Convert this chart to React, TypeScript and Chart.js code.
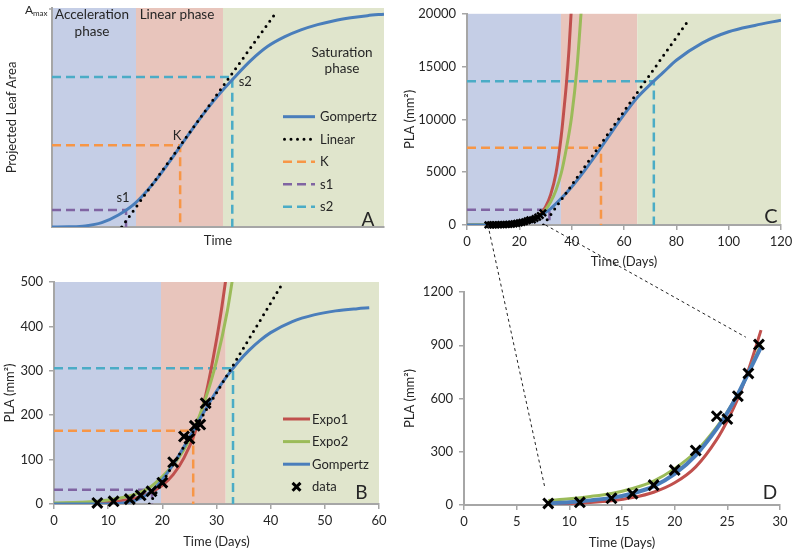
import React, { useEffect, useRef } from "react";
import { Chart, registerables } from "chart.js";
Chart.register(...registerables);

// ---------------- DATA ----------------
// Panel A – schematic (time in arbitrary units, area as a fraction of Amax)
const aTime = [0, 5, 10, 15, 20, 25, 30, 35, 40, 45, 50, 55, 60, 65, 70, 75, 80, 85, 90, 95, 100];
const aGompertz = [0, 0.001, 0.005, 0.02, 0.055, 0.108, 0.19, 0.29, 0.398, 0.504, 0.6, 0.684, 0.762, 0.825, 0.868, 0.9, 0.924, 0.942, 0.955, 0.965, 0.972];
const aLinearTime = [21, 67.5];
const aLinearArea = [0, 0.98];
const aPhaseBounds = [0, 25.3, 51.5, 100];
const aS1 = [22.3, 0.078];
const aK = [38.6, 0.373];
const aS2 = [54.3, 0.685];

// Panel B – PLA (mm²) vs time (days)
const bPhaseBounds = [0, 19.75, 31.7, 60];
const bGompDays = [0, 5, 10, 12, 14, 16, 18, 20, 22, 24, 26, 28, 30, 32, 34, 36, 38, 40, 44, 48, 52, 56, 58.2];
const bGompertz = [0, 0, 0.2, 1.1, 4.5, 12.9, 29, 55, 89, 129, 171, 214, 254, 289, 320, 346, 368, 386, 411, 426, 435, 440, 442];
const bExpo1Days = [0, 5, 8, 10, 12, 15, 18, 20, 22, 24, 26, 28, 30, 31, 32];
const bExpo1 = [1, 2, 3, 5, 7, 13, 27, 42, 66, 104, 160, 245, 370, 445, 530];
const bExpo2Days = [0, 5, 8, 10, 12, 15, 18, 20, 22, 24, 26, 28, 30, 32, 33];
const bExpo2 = [2.5, 4, 6, 9, 13, 22, 40, 62, 88, 123, 172, 238, 322, 435, 510];
const bLinearDays = [17.6, 42.15];
const bLinearPLA = [0, 496];
const bDataDays = [8, 11, 14, 16, 18, 20, 22, 24, 25, 26, 27, 28];
const bDataPLA = [2.3, 6, 11, 19.5, 28.5, 48, 94, 152, 147, 176, 179, 227];
const bS1 = [18.1, 32.3];
const bK = [25.7, 165];
const bS2 = [33.05, 306];

// Panel C – PLA (mm²) vs time (days), whole season
const cPhaseBounds = [0, 35.9, 65.1, 120];
const cGompDays = [0, 8, 10, 15, 20, 25, 28, 30, 32, 35, 40, 45, 50, 55, 60, 65, 70, 75, 80, 90, 100, 110, 120];
const cGompertz = [0, 5, 15, 80, 180, 540, 900, 1200, 1560, 2266, 3600, 5175, 6890, 8700, 10450, 12050, 13300, 14450, 15600, 17250, 18300, 18900, 19400];
const cExpo1Days = [0, 10, 15, 20, 25, 28, 30, 32, 34, 36, 37, 38, 39, 40];
const cExpo1 = [1, 10, 35, 120, 450, 1000, 1700, 2900, 4900, 8400, 10800, 13400, 16700, 21000];
const cExpo2Days = [0, 10, 15, 20, 25, 28, 30, 32, 34, 36, 38, 40, 42, 44];
const cExpo2 = [10, 35, 80, 205, 570, 950, 1450, 2200, 3300, 4900, 7300, 10300, 14800, 21500];
const cLinearDays = [29.2, 84.9];
const cLinearPLA = [0, 19477];
const cDataDays = [8, 9, 10, 11, 12, 13, 14, 15, 16, 17, 18, 19, 20, 21, 22, 23, 24, 25, 26, 27, 28, 29];
const cDataPLA = [10, 12, 15, 18, 25, 32, 40, 52, 65, 85, 112, 150, 197, 250, 307, 400, 500, 484, 613, 741, 904, 1150];
const cS1 = [31.5, 1440];
const cK = [51.2, 7312];
const cS2 = [71.4, 13606];
const cZoomDays = [8, 30];

// Panel D – zoom on early days
const dDays = [8, 10, 12, 14, 16, 18, 20, 22, 24, 25, 26, 27, 28.2];
const dGompertz = [10, 16, 26, 40, 65, 105, 175, 280, 430, 520, 625, 745, 890];
const dExpo1 = [5, 8, 14, 24, 42, 72, 125, 215, 370, 475, 600, 760, 985];
const dExpo2 = [25, 35, 48, 65, 93, 135, 205, 300, 440, 525, 625, 745, 905];
const dDataDays = [8, 11, 14, 16, 18, 20, 22, 24, 25, 26, 27, 28];
const dDataPLA = [9, 15, 38, 64, 112, 197, 307, 500, 484, 613, 741, 904];

// ---------------- STYLE ----------------
const FONT = "Lato, 'Open Sans', sans-serif";
const TEXT = "#262626";
const AXIS = "#A6A6A6";
const BLUE = "#4A7EBB";
const RED = "#C0504D";
const GREEN = "#9BBB59";
const ORANGE = "#F79646";
const PURPLE = "#8064A2";
const CYAN = "#4BACC6";
const PHASE_COLORS = ["#C5CEE6", "#E8C5BC", "#E0E5CC"];

Chart.defaults.font.family = FONT;
Chart.defaults.font.size = 13;
Chart.defaults.color = TEXT;

const pts = (xs: number[], ys: number[]) => xs.map((x, i) => ({ x, y: ys[i] }));

const curve = (label: string, xs: number[], ys: number[], color: string, width: number, order: number) => ({
  label, data: pts(xs, ys), borderColor: color, backgroundColor: color, borderWidth: width,
  pointRadius: 0, pointHoverRadius: 0, cubicInterpolationMode: "monotone", fill: false, order,
});
const dotted = (label: string, xs: number[], ys: number[], order: number) => ({
  label, data: pts(xs, ys), borderColor: "#000", backgroundColor: "#000", borderWidth: 3,
  borderDash: [0, 6.5], borderCapStyle: "round", pointRadius: 0, pointHoverRadius: 0, tension: 0, fill: false, order,
});
const refLine = (label: string, p: number[], color: string, order: number) => ({
  label, data: [{ x: 0, y: p[1] }, { x: p[0], y: p[1] }, { x: p[0], y: 0 }],
  borderColor: color, backgroundColor: color, borderWidth: 2.5, borderDash: [9, 5],
  pointRadius: 0, pointHoverRadius: 0, tension: 0, fill: false, order,
});
const markers = (label: string, xs: number[], ys: number[], r: number, w: number, order: number) => ({
  label, data: pts(xs, ys), showLine: false, pointStyle: "crossRot", pointRadius: r, pointHoverRadius: r,
  pointBorderWidth: w, pointBorderColor: "#000", pointBackgroundColor: "#000",
  borderColor: "#000", backgroundColor: "#000", borderWidth: w, clip: false, order,
});

type TextItem = { text: string; x: number; y: number; from: "tl" | "br" | "data"; size: number; dx?: number; dy?: number };
type LegendSpec = { left: number; top: number; gap: number; lineLen: number; textGap: number; labels: string[] };

function drawCross(ctx: CanvasRenderingContext2D, x: number, y: number, r: number, w: number) {
  const o = r * Math.SQRT1_2;
  ctx.save();
  ctx.strokeStyle = "#000";
  ctx.lineWidth = w;
  ctx.setLineDash([]);
  ctx.beginPath();
  ctx.moveTo(x - o, y - o); ctx.lineTo(x + o, y + o);
  ctx.moveTo(x - o, y + o); ctx.lineTo(x + o, y - o);
  ctx.stroke();
  ctx.restore();
}

function deco(phases: number[] | null, texts: TextItem[], legend: LegendSpec | null, extra?: (c: any) => void) {
  return {
    id: "deco",
    beforeDraw(chart: any) {
      if (!phases) return;
      const { ctx, chartArea: ca, scales } = chart;
      ctx.save();
      for (let i = 0; i < phases.length - 1; i++) {
        const x0 = scales.x.getPixelForValue(phases[i]);
        const x1 = scales.x.getPixelForValue(phases[i + 1]);
        ctx.fillStyle = PHASE_COLORS[i];
        ctx.fillRect(x0, ca.top, x1 - x0, ca.bottom - ca.top);
      }
      ctx.restore();
    },
    afterDatasetsDraw(chart: any) {
      const { ctx, chartArea: ca, scales } = chart;
      ctx.save();
      ctx.fillStyle = TEXT;
      ctx.textAlign = "center";
      ctx.textBaseline = "middle";
      for (const t of texts) {
        ctx.font = `${t.size}px ${FONT}`;
        let x = 0, y = 0;
        if (t.from === "tl") { x = ca.left + t.x; y = ca.top + t.y; }
        else if (t.from === "br") { x = ca.right + t.x; y = ca.bottom + t.y; }
        else { x = scales.x.getPixelForValue(t.x) + (t.dx || 0); y = scales.y.getPixelForValue(t.y) + (t.dy || 0); }
        ctx.fillText(t.text, x, y);
      }
      if (legend) {
        legend.labels.forEach((lab, i) => {
          const ds = chart.data.datasets.find((d: any) => d.label === lab);
          const y = ca.top + legend.top + i * legend.gap;
          const x0 = ca.left + legend.left;
          const x1 = x0 + legend.lineLen;
          if (ds.showLine === false) {
            drawCross(ctx, (x0 + x1) / 2, y, ds.pointRadius * 0.8, ds.pointBorderWidth);
          } else {
            ctx.save();
            ctx.strokeStyle = ds.borderColor;
            ctx.lineWidth = ds.borderWidth;
            ctx.setLineDash(ds.borderDash || []);
            ctx.lineCap = ds.borderCapStyle || "butt";
            ctx.beginPath();
            ctx.moveTo(x0 + (ds.borderCapStyle === "round" ? 1.5 : 0), y);
            ctx.lineTo(x1, y);
            ctx.stroke();
            ctx.restore();
          }
          ctx.font = `13px ${FONT}`;
          ctx.textAlign = "left";
          ctx.fillStyle = TEXT;
          ctx.fillText(lab, x1 + legend.textGap, y + 0.5);
        });
      }
      if (extra) extra(chart);
      ctx.restore();
    },
  };
}

type AxisOpts = {
  min: number; max: number; step?: number; title: string; size: number; ticks: boolean; titlePad: number;
};
const fmt = (v: any) => String(v);

function xAxis(o: AxisOpts) {
  return {
    type: "linear", min: o.min, max: o.max,
    ticks: { display: o.ticks, stepSize: o.step, padding: 4, color: TEXT, font: { size: 13 }, callback: fmt, maxRotation: 0 },
    grid: { display: o.ticks, drawOnChartArea: false, drawTicks: true, tickLength: 5, color: AXIS, lineWidth: 1.5 },
    border: { display: true, color: AXIS, width: 2 },
    title: { display: true, text: o.title, color: TEXT, font: { size: 13 }, padding: { top: 0, bottom: o.titlePad } },
    afterFit: (s: any) => { s.height = o.size; },
  };
}
function yAxis(o: AxisOpts) {
  return {
    type: "linear", min: o.min, max: o.max,
    ticks: { display: o.ticks, stepSize: o.step, padding: 6, color: TEXT, font: { size: 13 }, callback: fmt },
    grid: { display: o.ticks, drawOnChartArea: false, drawTicks: true, tickLength: 5, color: AXIS, lineWidth: 1.5 },
    border: { display: true, color: AXIS, width: 2 },
    title: { display: true, text: o.title, color: TEXT, font: { size: 13 }, padding: { top: o.titlePad, bottom: 0 } },
    afterFit: (s: any) => { s.width = o.size; },
  };
}

function baseOptions(padding: any, x: any, y: any) {
  return {
    responsive: false, animation: false, events: [],
    layout: { padding },
    plugins: { legend: { display: false }, tooltip: { enabled: false } },
    scales: { x, y },
  };
}

function configA(): any {
  const amax = (chart: any) => {
    const { ctx, chartArea: ca } = chart;
    ctx.fillStyle = TEXT;
    ctx.textAlign = "left";
    ctx.textBaseline = "alphabetic";
    ctx.font = `12px ${FONT}`;
    ctx.fillText("A", ca.left - 27, ca.top + 6);
    ctx.font = `8px ${FONT}`;
    ctx.fillText("max", ca.left - 19, ca.top + 8);
    ctx.strokeStyle = AXIS;
    ctx.lineWidth = 1.5;
    ctx.beginPath();
    ctx.moveTo(ca.left - 3, ca.top + 1);
    ctx.lineTo(ca.left, ca.top + 1);
    ctx.stroke();
  };
  const texts: TextItem[] = [
    { text: "Acceleration", x: 40, y: 7, from: "tl", size: 13.5 },
    { text: "phase", x: 40, y: 24, from: "tl", size: 13.5 },
    { text: "Linear phase", x: 125, y: 7, from: "tl", size: 13.5 },
    { text: "Saturation", x: 290, y: 45, from: "tl", size: 13.5 },
    { text: "phase", x: 290, y: 61, from: "tl", size: 13.5 },
    { text: "s1", x: aS1[0], y: aS1[1], dx: -3, dy: -12, from: "data", size: 13 },
    { text: "K", x: aK[0], y: aK[1], dx: -3, dy: -10, from: "data", size: 13 },
    { text: "s2", x: aS2[0], y: aS2[1], dx: 13, dy: 5, from: "data", size: 13 },
    { text: "A", x: -16, y: -7, from: "br", size: 19 },
  ];
  return {
    type: "line",
    data: {
      datasets: [
        dotted("Linear", aLinearTime, aLinearArea, 1),
        curve("Gompertz", aTime, aGompertz, BLUE, 3, 2),
        refLine("K", aK, ORANGE, 3),
        refLine("s1", aS1, PURPLE, 4),
        refLine("s2", aS2, CYAN, 5),
      ],
    },
    options: baseOptions(
      { top: 8, right: 16, bottom: 0, left: 0 },
      xAxis({ min: 0, max: 100, title: "Time", size: 28, ticks: false, titlePad: 6 }),
      yAxis({ min: 0, max: 1, title: "Projected Leaf Area", size: 52, ticks: false, titlePad: 4 }),
    ),
    plugins: [deco(aPhaseBounds, texts, { left: 231, top: 108.7, gap: 22.5, lineLen: 32, textGap: 5, labels: ["Gompertz", "Linear", "K", "s1", "s2"] }, amax)],
  };
}

function configB(): any {
  return {
    type: "line",
    data: {
      datasets: [
        markers("data", bDataDays, bDataPLA, 7, 3, 0),
        dotted("Linear", bLinearDays, bLinearPLA, 1),
        curve("Gompertz", bGompDays, bGompertz, BLUE, 3, 2),
        curve("Expo2", bExpo2Days, bExpo2, GREEN, 3, 3),
        curve("Expo1", bExpo1Days, bExpo1, RED, 3, 4),
        refLine("K", bK, ORANGE, 5),
        refLine("s1", bS1, PURPLE, 6),
        refLine("s2", bS2, CYAN, 7),
      ],
    },
    options: baseOptions(
      { top: 17, right: 21, bottom: 0, left: 0 },
      xAxis({ min: 0, max: 60, step: 10, title: "Time (Days)", size: 48, ticks: true, titlePad: 2 }),
      yAxis({ min: 0, max: 500, step: 100, title: "PLA (mm²)", size: 54, ticks: true, titlePad: 2 }),
    ),
    plugins: [deco(bPhaseBounds, [{ text: "B", x: -17.6, y: -11, from: "br", size: 19 }],
      { left: 229, top: 137, gap: 22.6, lineLen: 27, textGap: 2, labels: ["Expo1", "Expo2", "Gompertz", "data"] })],
  };
}

function configC(): any {
  return {
    type: "line",
    data: {
      datasets: [
        markers("data", cDataDays, cDataPLA, 4.5, 2.5, 0),
        dotted("Linear", cLinearDays, cLinearPLA, 1),
        curve("Gompertz", cGompDays, cGompertz, BLUE, 3, 2),
        curve("Expo2", cExpo2Days, cExpo2, GREEN, 3, 3),
        curve("Expo1", cExpo1Days, cExpo1, RED, 3, 4),
        refLine("K", cK, ORANGE, 5),
        refLine("s1", cS1, PURPLE, 6),
        refLine("s2", cS2, CYAN, 7),
      ],
    },
    options: baseOptions(
      { top: 7, right: 19, bottom: 0, left: 0 },
      xAxis({ min: 0, max: 120, step: 20, title: "Time (Days)", size: 45, ticks: true, titlePad: 0 }),
      yAxis({ min: 0, max: 20000, step: 5000, title: "PLA (mm²)", size: 67, ticks: true, titlePad: 2 }),
    ),
    plugins: [deco(cPhaseBounds, [{ text: "C", x: -10, y: -8.5, from: "br", size: 20 }], null)],
  };
}

function configD(): any {
  return {
    type: "line",
    data: {
      datasets: [
        markers("data", dDataDays, dDataPLA, 7, 3, 0),
        curve("Gompertz", dDays, dGompertz, BLUE, 4, 2),
        curve("Expo2", dDays, dExpo2, GREEN, 3, 3),
        curve("Expo1", dDays, dExpo1, RED, 3, 4),
      ],
    },
    options: baseOptions(
      { top: 27, right: 20, bottom: 0, left: 0 },
      xAxis({ min: 0, max: 30, step: 5, title: "Time (Days)", size: 47, ticks: true, titlePad: 1 }),
      yAxis({ min: 0, max: 1200, step: 300, title: "PLA (mm²)", size: 64, ticks: true, titlePad: 2 }),
    ),
    plugins: [deco(null, [{ text: "D", x: -10, y: -11.7, from: "br", size: 19 }], null)],
  };
}

const POS = {
  A: { left: 0, top: 0, w: 400, h: 255 },
  B: { left: 0, top: 265, w: 400, h: 287 },
  C: { left: 400, top: 0, w: 400, h: 270 },
  D: { left: 400, top: 265, w: 400, h: 287 },
};

function drawConnectors(canvas: HTMLCanvasElement, c: any, d: any) {
  const ctx = canvas.getContext("2d")!;
  ctx.clearRect(0, 0, canvas.width, canvas.height);
  const cp = (day: number, v: number) => ({ x: POS.C.left + c.scales.x.getPixelForValue(day), y: POS.C.top + c.scales.y.getPixelForValue(v) });
  const dp = (day: number, v: number) => ({ x: POS.D.left + d.scales.x.getPixelForValue(day), y: POS.D.top + d.scales.y.getPixelForValue(v) });
  const last = dDataDays.length - 1;
  const pairs = [
    [cp(cZoomDays[0], 0), dp(dDataDays[0], dDataPLA[0])],
    [cp(cZoomDays[1], 0), dp(dDataDays[last], dDataPLA[last])],
  ];
  ctx.strokeStyle = "#222";
  ctx.lineWidth = 1;
  ctx.setLineDash([3, 3]);
  for (const [p, q] of pairs) {
    const dx = q.x - p.x, dy = q.y - p.y;
    const len = Math.hypot(dx, dy);
    const k = (len - 15) / len;
    ctx.beginPath();
    ctx.moveTo(p.x, p.y);
    ctx.lineTo(p.x + dx * k, p.y + dy * k);
    ctx.stroke();
  }
}

export default function App() {
  const aRef = useRef<HTMLCanvasElement>(null);
  const bRef = useRef<HTMLCanvasElement>(null);
  const cRef = useRef<HTMLCanvasElement>(null);
  const dRef = useRef<HTMLCanvasElement>(null);
  const oRef = useRef<HTMLCanvasElement>(null);

  useEffect(() => {
    const a = new Chart(aRef.current!, configA());
    const b = new Chart(bRef.current!, configB());
    const c = new Chart(cRef.current!, configC());
    const d = new Chart(dRef.current!, configD());
    drawConnectors(oRef.current!, c, d);
    return () => { a.destroy(); b.destroy(); c.destroy(); d.destroy(); };
  }, []);

  const cs = (p: { left: number; top: number; w: number; h: number }) =>
    ({ position: "absolute" as const, left: p.left, top: p.top, width: p.w, height: p.h });

  return (
    <div style={{ position: "fixed", left: 0, top: 0, width: 800, height: 552, background: "#fff", overflow: "hidden" }}>
      <canvas ref={aRef} width={POS.A.w} height={POS.A.h} style={cs(POS.A)} />
      <canvas ref={bRef} width={POS.B.w} height={POS.B.h} style={cs(POS.B)} />
      <canvas ref={cRef} width={POS.C.w} height={POS.C.h} style={cs(POS.C)} />
      <canvas ref={dRef} width={POS.D.w} height={POS.D.h} style={cs(POS.D)} />
      <canvas ref={oRef} width={800} height={552} style={{ position: "absolute", left: 0, top: 0, width: 800, height: 552, pointerEvents: "none" }} />
    </div>
  );
}
